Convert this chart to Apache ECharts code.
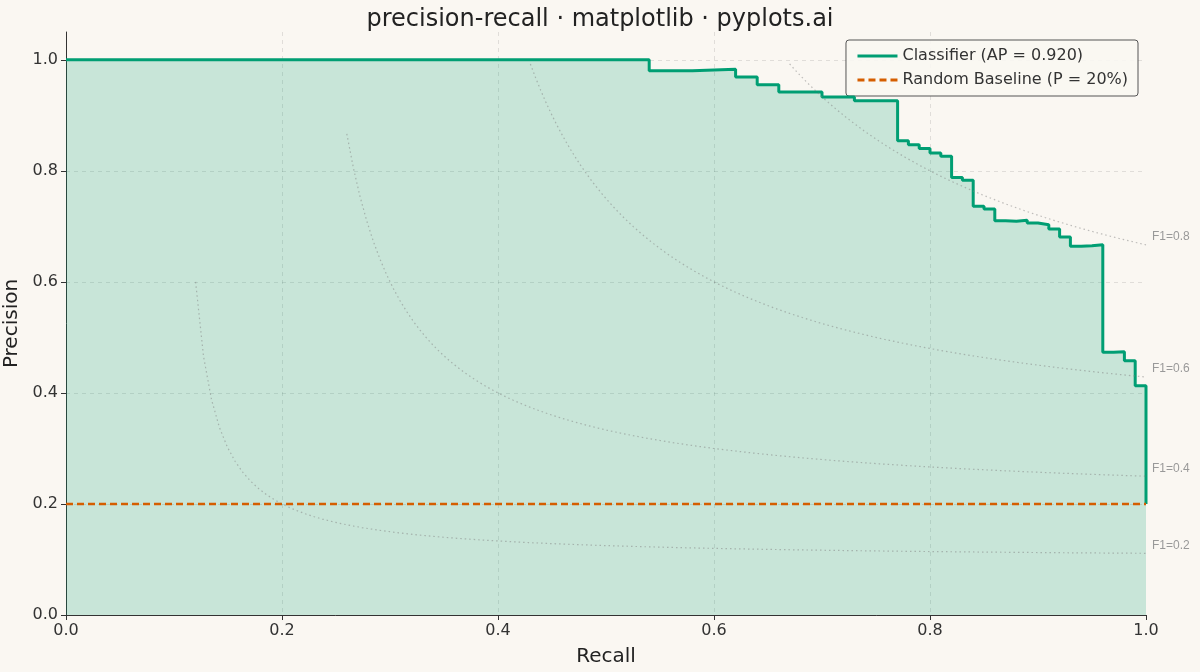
<!DOCTYPE html>
<html>
<head>
<meta charset="utf-8">
<script src="https://cdn.jsdelivr.net/npm/echarts@6/dist/echarts.min.js"></script>
<style>
  html, body { margin: 0; padding: 0; background: #FAF7F2; }
  #chart { width: 1200px; height: 672px; }
</style>
</head>
<body>
<div id="chart"></div>
<script>
// 阶梯 PR 曲线数据
const recall = [0.0, 0.54, 0.58, 0.62, 0.64, 0.66, 0.70, 0.73, 0.77, 0.78, 0.79, 0.80, 0.81, 0.82, 0.83, 0.84, 0.85, 0.86, 0.87, 0.88, 0.89, 0.90, 0.91, 0.92, 0.93, 0.94, 0.95, 0.96, 0.97, 0.98, 0.99, 1.0]
const precision = [1.0, 0.980, 0.983, 0.969, 0.955, 0.942, 0.933, 0.926, 0.854, 0.847, 0.840, 0.832, 0.826, 0.788, 0.783, 0.736, 0.731, 0.710, 0.709, 0.711, 0.706, 0.703, 0.695, 0.681, 0.664, 0.665, 0.667, 0.473, 0.474, 0.458, 0.413, 0.2]
const baseline = 0.2
const f1Levels = [0.2, 0.4, 0.6, 0.8]
const f1Start = [0.12, 0.26, 0.43, 0.67]

const green = '#009E73'
const orange = '#D55E00'

const prData = recall.map((r, i) => [r, precision[i]])

const series = [{
  name: 'Classifier (AP = 0.920)',
  type: 'line',
  step: 'end',
  symbol: 'none',
  z: 5,
  lineStyle: { color: green, width: 3 },
  itemStyle: { color: green },
  areaStyle: { color: 'rgba(0,158,115,0.2)', opacity: 1, origin: 'start' },
  data: prData
}, {
  name: 'Random Baseline (P = 20%)',
  type: 'line',
  symbol: 'none',
  z: 6,
  lineStyle: { color: orange, width: 2.5, type: [7, 4] },
  itemStyle: { color: orange },
  data: [[0, baseline], [1, baseline]]
}]

// iso-F1 曲线
f1Levels.forEach((f, k) => {
  const pts = []
  for (let i = 0; i <= 120; i++) {
    const r = f1Start[k] + (1 - f1Start[k]) * i / 120
    pts.push([r, f * r / (2 * r - f)])
  }
  series.push({
    type: 'line',
    symbol: 'none',
    silent: true,
    z: 5,
    lineStyle: { color: 'rgba(130,130,130,0.5)', width: 1.2, type: [1.5, 3] },
    endLabel: {
      show: true,
      formatter: 'F1=' + f.toFixed(1),
      color: '#999',
      fontSize: 12,
      offset: [-2, -8]
    },
    data: pts
  })
})

const axisText = { color: '#333', fontSize: 16, fontFamily: 'DejaVu Sans' }
const splitLine = { show: true, showMaxLine: false, lineStyle: { color: 'rgba(0,0,0,0.1)', type: [4, 4] } }

const option = {
  backgroundColor: '#FAF7F2',
  animation: false,
  title: {
    text: 'precision-recall · matplotlib · pyplots.ai',
    left: 'center',
    top: 3,
    textStyle: { fontSize: 24, fontWeight: 'normal', color: '#222', fontFamily: 'DejaVu Sans' }
  },
  legend: {
    data: ['Classifier (AP = 0.920)', 'Random Baseline (P = 20%)'],
    orient: 'vertical',
    right: 62,
    top: 40,
    itemWidth: 40,
    itemHeight: 12,
    itemGap: 8,
    padding: [8, 10],
    itemStyle: { opacity: 0 },
    lineStyle: { width: 3 },
    backgroundColor: 'rgba(250,247,242,0.9)',
    borderColor: '#555',
    borderWidth: 1,
    borderRadius: 3,
    textStyle: { fontSize: 16, color: '#333', fontFamily: 'DejaVu Sans' }
  },
  grid: { left: 66, right: 54, top: 32, bottom: 57, containLabel: false, outerBoundsMode: 'none' },
  xAxis: {
    type: 'value',
    min: 0,
    max: 1,
    interval: 0.2,
    name: 'Recall',
    nameLocation: 'middle',
    nameGap: 32,
    nameTextStyle: { fontSize: 20, color: '#222', fontFamily: 'DejaVu Sans' },
    axisLine: { show: true, onZero: false, lineStyle: { color: '#333' } },
    axisTick: { show: true, inside: false, lineStyle: { color: '#333' } },
    axisLabel: Object.assign({ formatter: v => v.toFixed(1) }, axisText),
    splitLine
  },
  yAxis: {
    type: 'value',
    min: 0,
    max: 1.05,
    interval: 0.2,
    name: 'Precision',
    nameLocation: 'middle',
    nameGap: 38,
    nameTextStyle: { fontSize: 20, color: '#222', fontFamily: 'DejaVu Sans' },
    axisLine: { show: true, lineStyle: { color: '#333' } },
    axisTick: { show: true, lineStyle: { color: '#333' } },
    axisLabel: Object.assign({ formatter: v => v.toFixed(1), showMaxLabel: false }, axisText),
    splitLine
  },
  series
}

const chart = echarts.init(document.getElementById('chart'))
chart.setOption(option, true)
</script>
</body>
</html>
